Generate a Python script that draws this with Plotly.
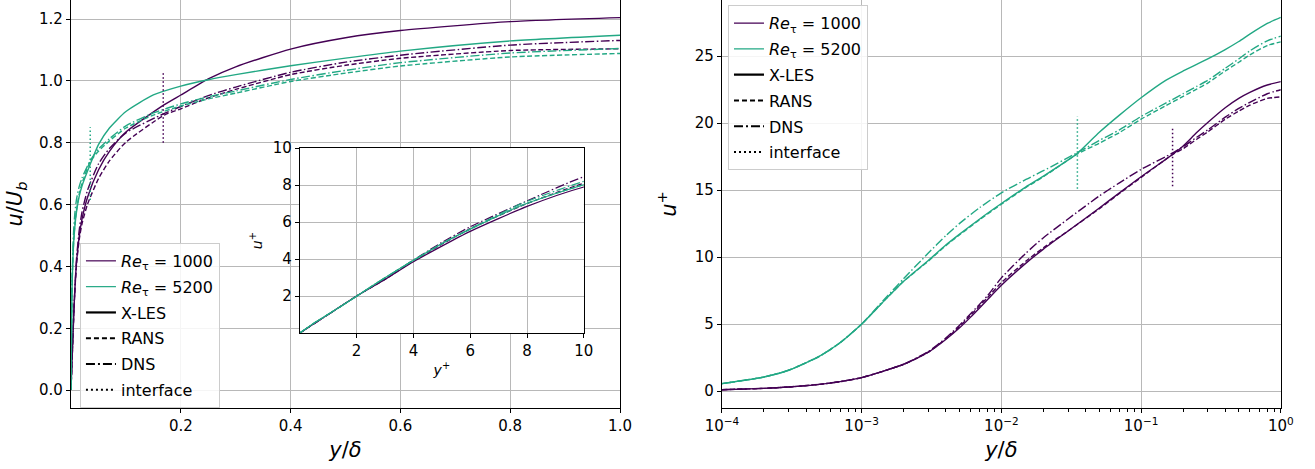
import plotly.graph_objects as go

PURPLE = "#440154"
TEAL = "#22a884"
FONT = "DejaVu Sans"

# ---------------- data ----------------
# wall distance y/delta for Re_tau = 1000
y_1000 = [1e-4, 2e-4, 3e-4, 5e-4, 7e-4, 1e-3, 2e-3, 3e-3, 4e-3, 5e-3, 6e-3, 8e-3, 0.01,
          0.015, 0.02, 0.03, 0.05, 0.07, 0.1, 0.17, 0.2, 0.25, 0.3, 0.4, 0.5, 0.6,
          0.8, 1.0]
# u+ profiles, Re_tau = 1000
xles_1000 = [0.1, 0.2, 0.3, 0.5, 0.7, 1.0, 2.0, 2.9, 3.85, 4.7, 5.5, 6.85, 7.9,
             9.55, 10.6, 11.95, 13.65, 14.8, 16.0, 17.7, 18.3, 19.3, 20.05, 21.15, 21.85,
             22.3, 22.85, 23.1]
rans_1000 = [0.1, 0.2, 0.3, 0.5, 0.7, 1.0, 2.0, 2.9, 3.9, 4.8, 5.65, 7.0, 8.1,
             9.7, 10.7, 11.95, 13.6, 14.75, 15.95, 17.7, 18.1, 18.8, 19.35, 20.3, 20.9,
             21.35, 21.85, 21.96]
dns_1000 = [0.1, 0.2, 0.3, 0.5, 0.7, 1.0, 2.0, 2.95, 3.95, 4.9, 5.75, 7.15, 8.45,
            10.3, 11.45, 12.85, 14.55, 15.55, 16.55, 17.8, 18.25, 18.95, 19.5, 20.45,
            21.1, 21.55, 22.2, 22.5]

# wall distance y/delta for Re_tau = 5200
y_5200 = [1e-4, 2e-4, 3e-4, 5e-4, 7e-4, 1e-3, 1.5e-3, 2e-3, 3e-3, 4e-3, 5e-3, 7e-3,
          0.01, 0.015, 0.02, 0.035, 0.05, 0.07, 0.1, 0.15, 0.2, 0.25, 0.3, 0.4, 0.5,
          0.6, 0.8, 1.0]
xles_5200 = [0.55, 1.05, 1.55, 2.6, 3.6, 5.0, 6.9, 8.2, 9.75, 10.9, 11.7, 12.85,
             14.0, 15.25, 16.05, 17.75, 19.3, 20.6, 21.9, 23.2, 23.9, 24.4, 24.8, 25.5,
             26.1, 26.65, 27.45, 27.9]
rans_5200 = [0.55, 1.05, 1.55, 2.6, 3.6, 5.0, 6.9, 8.2, 9.7, 10.85, 11.65, 12.8,
             13.95, 15.2, 16.0, 17.7, 18.5, 19.3, 20.3, 21.3, 22.0, 22.55, 23.0, 23.9,
             24.55, 25.1, 25.8, 26.07]
dns_5200 = [0.55, 1.05, 1.55, 2.6, 3.6, 5.0, 7.0, 8.4, 10.3, 11.6, 12.5, 13.7,
            14.8, 15.8, 16.45, 17.8, 18.7, 19.5, 20.5, 21.5, 22.2, 22.75, 23.2, 24.1,
            24.8, 25.4, 26.15, 26.5]

# bulk velocity in wall units U_b+ for each profile
ub_xles_1000, ub_rans_1000, ub_dns_1000 = 19.17, 19.89, 19.89
ub_xles_5200, ub_rans_5200, ub_dns_5200 = 24.30, 23.94, 23.98

# interface positions (y/delta) and drawn extents
iface_pos = [0.168, 0.035]
iface_left_lo = [0.80, 0.615]
iface_left_hi = [1.03, 0.85]
iface_right_lo = [15.3, 15.1]
iface_right_hi = [19.7, 20.5]

# ---------------- styles ----------------
DASH = {"X-LES": "solid", "RANS": "5px,2.5px", "DNS": "9px,2.5px,1.5px,2.5px"}
DOT = "1.5px,2.5px"
LW = 1.4

profiles = [
    (y_1000, xles_1000, ub_xles_1000, "X-LES", PURPLE, 1000),
    (y_1000, rans_1000, ub_rans_1000, "RANS", PURPLE, 1000),
    (y_1000, dns_1000, ub_dns_1000, "DNS", PURPLE, 1000),
    (y_5200, xles_5200, ub_xles_5200, "X-LES", TEAL, 5200),
    (y_5200, rans_5200, ub_rans_5200, "RANS", TEAL, 5200),
    (y_5200, dns_5200, ub_dns_5200, "DNS", TEAL, 5200),
]

fig = go.Figure()

for yy, up, ub, kind, col, re in profiles:
    line = dict(color=col, width=LW, dash=DASH[kind], shape="spline", smoothing=0.6)
    fig.add_trace(go.Scatter(x=[0] + yy, y=[0] + [u / ub for u in up], mode="lines",
                             line=line, showlegend=False, xaxis="x", yaxis="y"))
    fig.add_trace(go.Scatter(x=yy, y=up, mode="lines", line=line,
                             showlegend=False, xaxis="x2", yaxis="y2"))
    fig.add_trace(go.Scatter(x=[0] + [v * re for v in yy], y=[0] + up, mode="lines",
                             line=dict(color=col, width=1.2, dash=DASH[kind],
                                       shape="spline", smoothing=0.6),
                             showlegend=False, xaxis="x3", yaxis="y3"))

for i, col in enumerate([PURPLE, TEAL]):
    dl = dict(color=col, width=1.5, dash=DOT)
    fig.add_trace(go.Scatter(x=[iface_pos[i]] * 2, y=[iface_left_lo[i], iface_left_hi[i]],
                             mode="lines", line=dl, showlegend=False, xaxis="x", yaxis="y"))
    fig.add_trace(go.Scatter(x=[iface_pos[i]] * 2, y=[iface_right_lo[i], iface_right_hi[i]],
                             mode="lines", line=dl, showlegend=False, xaxis="x2", yaxis="y2"))

# legend entries
legend_items = [
    ("<i>Re</i><sub>τ</sub> = 1000", PURPLE, "solid", 1.2),
    ("<i>Re</i><sub>τ</sub> = 5200", TEAL, "solid", 1.2),
    ("X-LES", "black", "solid", 2.2),
    ("RANS", "black", "5px,3px", 2.0),
    ("DNS", "black", "9px,3px,2px,3px", 2.0),
    ("interface", "black", "2px,3px", 2.0),
]
for leg, xa, ya in [("legend", "x", "y"), ("legend2", "x2", "y2")]:
    for j, (name, col, dash, w) in enumerate(legend_items):
        fig.add_trace(go.Scatter(x=[None], y=[None], mode="lines", name=name,
                                 line=dict(color=col, dash=dash, width=w),
                                 legend=leg, legendgroup=f"{leg}_{j}",
                                 xaxis=xa, yaxis=ya))

axis_common = dict(showline=True, linecolor="black", linewidth=1.3, ticks="outside",
                   ticklen=4, tickcolor="black", tickwidth=1, showgrid=True,
                   gridcolor="#b8b8b8", gridwidth=1, zeroline=False, automargin=False,
                   tickfont=dict(family=FONT, size=15, color="black"))

leg_common = dict(xanchor="left", yanchor="top", bgcolor="rgba(255,255,255,0.85)",
                  bordercolor="#cccccc", borderwidth=1,
                  font=dict(family=FONT, size=16), tracegroupgap=2)

fig.update_layout(
    width=1315, height=469,
    margin=dict(l=0, r=0, t=0, b=0, autoexpand=False),
    paper_bgcolor="white", plot_bgcolor="white",
    font=dict(family=FONT, size=15, color="black"),
    xaxis=dict(axis_common, domain=[0.054, 0.4715], range=[0, 1],
               tickvals=[0.2, 0.4, 0.6, 0.8, 1.0],
               ticktext=["0.2", "0.4", "0.6", "0.8", "1.0"],
               title=dict(text="<i>y</i>/<i>δ</i>", font=dict(size=21), standoff=8),
               anchor="y", mirror=False),
    yaxis=dict(axis_common, domain=[0.130, 1.0], range=[-0.058, 1.262],
               tickvals=[0, 0.2, 0.4, 0.6, 0.8, 1.0, 1.2],
               ticktext=["0.0", "0.2", "0.4", "0.6", "0.8", "1.0", "1.2"],
               title=dict(text="<i>u</i>/<i>U</i><sub><i>b</i></sub>", font=dict(size=21),
                          standoff=10),
               anchor="x", mirror=True),
    xaxis2=dict(axis_common, type="log", domain=[0.549, 0.974], range=[-4, 0],
                tickvals=[1e-4, 1e-3, 1e-2, 1e-1, 1],
                ticktext=["10<sup>−4</sup>", "10<sup>−3</sup>", "10<sup>−2</sup>",
                          "10<sup>−1</sup>", "10<sup>0</sup>"],
                minor=dict(tickvals=[k * 10.0 ** e for e in range(-4, 0) for k in range(2, 10)],
                           ticks="outside", ticklen=2.5, tickcolor="black", showgrid=False),
                title=dict(text="<i>y</i>/<i>δ</i>", font=dict(size=21), standoff=8),
                anchor="y2", mirror=False),
    yaxis2=dict(axis_common, domain=[0.130, 1.0], range=[-1.27, 29.2],
                tickvals=[0, 5, 10, 15, 20, 25],
                title=dict(text="<i>u</i><sup>+</sup>", font=dict(size=21), standoff=12),
                anchor="x2", mirror=True),
    xaxis3=dict(axis_common, domain=[0.228, 0.444], range=[0, 10],
                tickvals=[2, 4, 6, 8, 10], linewidth=1,
                title=dict(text="<i>y</i><sup>+</sup>", font=dict(size=14), standoff=6),
                anchor="y3", mirror=True),
    yaxis3=dict(axis_common, domain=[0.29, 0.684], range=[0, 10],
                tickvals=[2, 4, 6, 8, 10], linewidth=1,
                title=dict(text="<i>u</i><sup>+</sup>", font=dict(size=14), standoff=6),
                anchor="x3", mirror=True),
    legend=dict(leg_common, x=0.0608, y=0.482),
    legend2=dict(leg_common, x=0.5536, y=0.989),
)

fig.write_html("out.html")
